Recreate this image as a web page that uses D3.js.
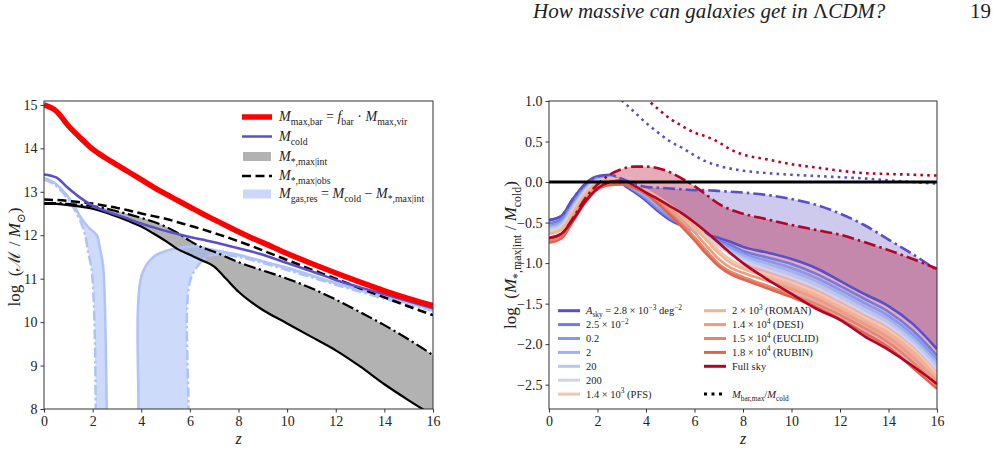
<!DOCTYPE html>
<meta charset="utf-8">
<script src="https://d3js.org/d3.v7.min.js"></script>
<style>
  body { margin: 0; background: #fff; }
  svg text { white-space: pre; }
</style>
<div id="chart"></div>
<script>

var FONT = "'Liberation Serif', 'Times New Roman', 'DejaVu Serif', serif";

// ---------- left panel: log masses vs redshift ----------
var zL = [0,0.5,1,1.5,2,2.5,3,3.5,4,4.5,5,5.5,6,6.5,7,7.5,8,8.5,9,10,11,12,13,14,15,16];
var mBarMax = [15.0,14.86,14.52,14.24,13.98,13.79,13.62,13.45,13.28,13.11,12.95,12.8,12.65,12.5,12.36,12.22,12.08,11.95,11.83,11.58,11.35,11.13,10.92,10.72,10.54,10.38];
var mCold   = [13.4,13.33,13.08,12.86,12.68,12.56,12.47,12.37,12.27,12.18,12.1,12.03,11.96,11.9,11.84,11.77,11.7,11.63,11.55,11.36,11.17,10.97,10.8,10.64,10.48,10.32];
var mObs    = [12.82,12.81,12.79,12.76,12.73,12.68,12.63,12.57,12.5,12.44,12.38,12.3,12.22,12.14,12.05,11.96,11.86,11.76,11.65,11.43,11.21,11.0,10.78,10.57,10.36,10.16];
var mIntLo  = [12.72,12.72,12.69,12.66,12.61,12.53,12.43,12.32,12.2,12.04,11.87,11.68,11.55,11.42,11.28,10.99,10.7,10.47,10.28,9.97,9.66,9.35,8.98,8.57,8.2,7.85];
var mIntHi  = [12.74,12.74,12.72,12.7,12.67,12.62,12.55,12.48,12.4,12.31,12.2,12.05,11.87,11.72,11.62,11.5,11.38,11.28,11.19,11.0,10.78,10.52,10.23,9.93,9.6,9.24];

// gas reservoir band: two edges, each in two pieces (it drops below the axis in between)
var gasAz1 = [0,0.4,0.9,1.2,1.5,1.8,2.17,2.3,2.43,2.5,2.58,2.6];
var gasA1  = [13.32,13.22,12.95,12.72,12.42,12.2,12.0,11.7,11.3,10.5,8.0,7.0];
var gasBz1 = [0,0.4,0.9,1.2,1.5,1.69,1.82,1.96,2.07,2.13,2.15];
var gasB1  = [13.28,13.18,12.9,12.65,12.32,12.0,11.6,11.2,10.1,8.0,7.0];
var gasAz2 = [3.86,3.88,4.02,4.5,5.3,6.2,7,8,9,10,11,12,13,14,15,16];
var gasA2  = [7.0,8.0,11.08,11.5,11.68,11.74,11.66,11.55,11.4,11.25,11.08,10.9,10.74,10.58,10.44,10.3];
var gasBz2 = [5.92,5.94,6.0,6.42,6.7,7,8,9,10,11,12,13,14,15,16];
var gasB2  = [7.0,8.0,10.93,11.36,11.5,11.55,11.5,11.36,11.2,11.03,10.86,10.7,10.54,10.4,10.26];

// ---------- right panel: log(M*,max|int / Mcold) per survey area ----------
var zR = [0,0.5,1,1.5,2,2.5,3,3.5,4,4.5,5,5.5,6,6.5,7,7.5,8,9,10,11,12,13,14,15,16];
var skySmall  = [-0.47,-0.42,-0.2,-0.02,0.07,0.08,-0.02,-0.12,-0.23,-0.36,-0.47,-0.54,-0.59,-0.65,-0.69,-0.74,-0.8,-0.87,-0.95,-1.06,-1.22,-1.38,-1.53,-1.75,-2.06];
var sky2p5e2  = [-0.51,-0.46,-0.24,-0.05,0.05,0.07,-0.01,-0.1,-0.21,-0.34,-0.45,-0.53,-0.6,-0.66,-0.72,-0.78,-0.85,-0.93,-1.01,-1.13,-1.28,-1.44,-1.6,-1.83,-2.14];
var sky0p2    = [-0.54,-0.49,-0.27,-0.07,0.04,0.06,0.0,-0.09,-0.19,-0.32,-0.43,-0.52,-0.6,-0.67,-0.74,-0.81,-0.88,-0.97,-1.06,-1.18,-1.33,-1.49,-1.65,-1.88,-2.19];
var sky2      = [-0.56,-0.51,-0.29,-0.09,0.03,0.05,0.0,-0.08,-0.17,-0.29,-0.41,-0.51,-0.6,-0.68,-0.76,-0.84,-0.91,-1.01,-1.1,-1.22,-1.37,-1.53,-1.69,-1.92,-2.23];
var sky20     = [-0.58,-0.53,-0.31,-0.1,0.02,0.05,0.01,-0.06,-0.15,-0.26,-0.38,-0.49,-0.59,-0.68,-0.77,-0.86,-0.94,-1.04,-1.14,-1.26,-1.41,-1.57,-1.73,-1.96,-2.27];
var sky200    = [-0.6,-0.55,-0.33,-0.11,0.01,0.04,0.01,-0.05,-0.13,-0.23,-0.34,-0.46,-0.57,-0.68,-0.79,-0.89,-0.97,-1.08,-1.18,-1.3,-1.45,-1.61,-1.77,-2.0,-2.31];
var skyPFS    = [-0.62,-0.57,-0.35,-0.13,0.0,0.04,0.02,-0.03,-0.1,-0.19,-0.29,-0.4,-0.53,-0.68,-0.84,-0.96,-1.04,-1.14,-1.24,-1.36,-1.51,-1.67,-1.83,-2.06,-2.37];
var skyROMAN  = [-0.64,-0.59,-0.37,-0.15,-0.01,0.03,0.02,-0.03,-0.1,-0.19,-0.3,-0.42,-0.56,-0.72,-0.88,-1.0,-1.07,-1.17,-1.27,-1.39,-1.54,-1.7,-1.86,-2.09,-2.41];
var skyDESI   = [-0.7,-0.65,-0.42,-0.19,-0.05,0.01,0.01,-0.04,-0.12,-0.22,-0.34,-0.47,-0.62,-0.79,-0.95,-1.06,-1.12,-1.22,-1.32,-1.44,-1.59,-1.75,-1.92,-2.16,-2.46];
var skyEUCLID = [-0.72,-0.67,-0.45,-0.22,-0.07,-0.02,-0.02,-0.06,-0.14,-0.25,-0.38,-0.52,-0.68,-0.85,-1.01,-1.11,-1.17,-1.28,-1.39,-1.5,-1.64,-1.8,-1.98,-2.22,-2.51];
var skyRUBIN  = [-0.75,-0.7,-0.48,-0.25,-0.09,-0.04,-0.03,-0.07,-0.15,-0.27,-0.41,-0.56,-0.72,-0.89,-1.04,-1.14,-1.2,-1.31,-1.42,-1.54,-1.69,-1.86,-2.04,-2.29,-2.55];
var skyFull   = [-0.69,-0.64,-0.46,-0.24,-0.08,0.0,0.02,-0.04,-0.13,-0.21,-0.3,-0.39,-0.5,-0.62,-0.75,-0.88,-1.0,-1.2,-1.38,-1.56,-1.7,-1.9,-2.07,-2.27,-2.49];
// upper bounds (dash-dot) for the smallest area and full sky
var hiSmall = [-0.47,-0.42,-0.2,-0.02,0.07,0.09,0.04,-0.02,-0.06,-0.07,-0.08,-0.09,-0.1,-0.1,-0.11,-0.12,-0.13,-0.16,-0.21,-0.28,-0.39,-0.53,-0.71,-0.89,-1.09];
var hiFull  = [-0.69,-0.64,-0.44,-0.2,-0.03,0.09,0.16,0.19,0.19,0.17,0.12,0.04,-0.05,-0.16,-0.27,-0.34,-0.39,-0.46,-0.53,-0.59,-0.65,-0.74,-0.84,-0.95,-1.07];
// Mbar,max / Mcold (dotted)
var dotZSmall = [2.8,3,3.5,4,4.5,5,5.5,6,6.5,7,8,9,10,11,12,13,14,15,16];
var dotSmall  = [1.07,1.01,0.87,0.73,0.61,0.5,0.42,0.33,0.25,0.2,0.14,0.11,0.09,0.075,0.06,0.045,0.02,0.0,-0.02];
var dotZFull  = [4.0,4.16,4.5,5,5.5,6,6.5,7,7.5,8,9,10,11,12,13,14,15,16];
var dotFull   = [1.04,0.99,0.9,0.78,0.69,0.61,0.56,0.49,0.4,0.34,0.28,0.22,0.18,0.14,0.11,0.1,0.09,0.08];

var skySeries = [skySmall, sky2p5e2, sky0p2, sky2, sky20, sky200, skyPFS, skyROMAN, skyDESI, skyEUCLID, skyRUBIN, skyFull];
var skyColors = ["#5a4fc8","#6f7de3","#8597ee","#9db1f5","#b6c7f5","#cfd4ec","#f3c7ae","#f2b394","#ee9c7a","#e7856a","#dc6650","#b40426"];
var skyLabels = [
  [["A","i"],["sky","b"],[" = 2.8 × 10"],["−3","p"],[" deg"],["−2","p"]],
  [["2.5 × 10"],["−2","p"]],
  [["0.2"]], [["2"]], [["20"]], [["200"]],
  [["1.4 × 10"],["3","p"],[" (PFS)"]],
  [["2 × 10"],["3","p"],[" (ROMAN)"]],
  [["1.4 × 10"],["4","p"],[" (DESI)"]],
  [["1.5 × 10"],["4","p"],[" (EUCLID)"]],
  [["1.8 × 10"],["4","p"],[" (RUBIN)"]],
  [["Full sky"]]
];

var svg = d3.select("#chart").append("svg")
  .attr("width", 997).attr("height", 451)
  .attr("font-family", FONT);

// write math-like text with italics / sub / superscripts
function rich(sel, parts, size) {
  var off = 0;
  parts.forEach(function(p) {
    var f = p[1] || "";
    var shift = f.indexOf("b") >= 0 ? size * 0.3 : (f.indexOf("p") >= 0 ? -size * 0.42 : 0);
    var ts = sel.append("tspan").attr("dy", shift - off).text(p[0]);
    off = shift;
    if (shift !== 0) ts.attr("font-size", (size * 0.7) + "px");
    if (f.indexOf("i") >= 0) ts.attr("font-style", "italic");
  });
}

function txt(x, y, size) {
  return svg.append("text").attr("x", x).attr("y", y)
    .attr("font-family", FONT).attr("font-size", size + "px").attr("fill", "#222");
}

function pairs(zs, vs) { return zs.map(function(z, i) { return [z, vs[i]]; }); }

// header
txt(533, 18, 21).attr("font-style", "italic")
  .call(function(t) {
    t.append("tspan").text("How massive can galaxies get in ");
    t.append("tspan").attr("font-style", "normal").text("Λ");
    t.append("tspan").text("CDM?");
  });
txt(970, 18, 21).text("19");

function panel(x0, x1, ydom, id) {
  var x = d3.scaleLinear().domain([0, 16]).range([x0, x1]);
  var y = d3.scaleLinear().domain(ydom).range([409, 101]);
  svg.append("clipPath").attr("id", id).append("rect")
    .attr("x", x0).attr("y", 101).attr("width", x1 - x0).attr("height", 308);
  var g = svg.append("g");
  var plot = g.append("g").attr("clip-path", "url(#" + id + ")");
  return {x: x, y: y, g: g, plot: plot};
}

function axes(p, yticks, fmt) {
  var ax = p.g.append("g").attr("transform", "translate(0,409)")
    .call(d3.axisBottom(p.x).tickValues(d3.range(0, 17, 2)).tickSize(3.5).tickPadding(4));
  var ay = p.g.append("g").attr("transform", "translate(" + p.x.range()[0] + ",0)")
    .call(d3.axisLeft(p.y).tickValues(yticks).tickFormat(fmt).tickSize(3.5).tickPadding(3));
  [ax, ay].forEach(function(a) {
    a.attr("font-family", FONT).attr("font-size", 14);
    a.select(".domain").remove();
    a.selectAll("line").attr("stroke", "#333");
    a.selectAll("text").attr("fill", "#222");
  });
  p.g.append("rect").attr("x", p.x.range()[0]).attr("y", 101)
    .attr("width", p.x.range()[1] - p.x.range()[0]).attr("height", 308)
    .attr("fill", "none").attr("stroke", "#333").attr("stroke-width", 1);
  txt((p.x.range()[0] + p.x.range()[1]) / 2, 444, 16)
    .attr("text-anchor", "middle").attr("font-style", "italic").text("z");
}

// ================= LEFT =================
var L = panel(44, 433, [8, 15.09], "clipL");
var lineL = d3.line().x(function(d) { return L.x(d[0]); }).y(function(d) { return L.y(d[1]); })
  .curve(d3.curveMonotoneX);
var edgeL = d3.line().x(function(d) { return L.x(d[0]); }).y(function(d) { return L.y(d[1]); })
  .curve(d3.curveCatmullRom.alpha(0.5));

// gray band M*,max|int
L.plot.append("path")
  .attr("d", d3.area().x(function(d, i) { return L.x(zL[i]); })
    .y0(function(d, i) { return L.y(mIntLo[i]); })
    .y1(function(d, i) { return L.y(mIntHi[i]); })
    .curve(d3.curveMonotoneX)(zL))
  .attr("fill", "#b2b2b2");

// light blue gas band (two lobes)
[[gasAz1, gasA1, gasBz1, gasB1], [gasAz2, gasA2, gasBz2, gasB2]].forEach(function(s) {
  var a = pairs(s[0], s[1]), b = pairs(s[2], s[3]);
  L.plot.append("path").attr("d", edgeL(a.concat(b.slice().reverse())) + "Z")
    .attr("fill", "#a5bcf6").attr("fill-opacity", 0.55);
  L.plot.append("path").attr("d", edgeL(a)).attr("fill", "none")
    .attr("stroke", "#aec3f7").attr("stroke-width", 2.5);
  L.plot.append("path").attr("d", edgeL(b)).attr("fill", "none")
    .attr("stroke", "#aec3f7").attr("stroke-width", 2.5).attr("stroke-dasharray", "10,3,2.5,3");
});

L.plot.append("path").attr("d", lineL(pairs(zL, mIntLo))).attr("fill", "none")
  .attr("stroke", "#000").attr("stroke-width", 2.2);
L.plot.append("path").attr("d", lineL(pairs(zL, mIntHi))).attr("fill", "none")
  .attr("stroke", "#000").attr("stroke-width", 2.2).attr("stroke-dasharray", "12,3.5,2.2,3.5");
L.plot.append("path").attr("d", lineL(pairs(zL, mObs))).attr("fill", "none")
  .attr("stroke", "#000").attr("stroke-width", 2.5).attr("stroke-dasharray", "9,4.5");
L.plot.append("path").attr("d", lineL(pairs(zL, mCold))).attr("fill", "none")
  .attr("stroke", "#5a4fc8").attr("stroke-width", 2.5);
L.plot.append("path").attr("d", lineL(pairs(zL, mBarMax))).attr("fill", "none")
  .attr("stroke", "#ff0000").attr("stroke-width", 5.5);

axes(L, d3.range(8, 16), d3.format("d"));

txt(0, 0, 17).attr("transform", "translate(20,257) rotate(-90)")
  .attr("text-anchor", "middle")
  .call(rich, [["log  ("], ["ℳ"], [" / "], ["M", "i"], ["⊙", "b"], [")"]], 17);

// left legend
var legL = [
  {kind: "line", color: "#ff0000", w: 5.5, parts: [["M","i"],["max,bar","b"],[" = "],["f","i"],["bar","b"],[" · "],["M","i"],["max,vir","b"]]},
  {kind: "line", color: "#5a4fc8", w: 2.5, parts: [["M","i"],["cold","b"]]},
  {kind: "rect", color: "#b2b2b2", parts: [["M","i"],["*,max|int","b"]]},
  {kind: "line", color: "#000", w: 2.5, dash: "9,4.5", parts: [["M","i"],["*,max|obs","b"]]},
  {kind: "rect", color: "#cbd8fa", parts: [["M","i"],["gas,res","b"],[" = "],["M","i"],["cold","b"],[" − "],["M","i"],["*,max|int","b"]]}
];
var rowsL = [117, 136.5, 156.5, 176, 194];
legL.forEach(function(e, i) {
  var cy = rowsL[i];
  if (e.kind === "line") {
    svg.append("line").attr("x1", 242).attr("x2", 272).attr("y1", cy).attr("y2", cy)
      .attr("stroke", e.color).attr("stroke-width", e.w).attr("stroke-dasharray", e.dash || null);
  } else {
    svg.append("rect").attr("x", 243).attr("y", cy - 4.5).attr("width", 28).attr("height", 9)
      .attr("fill", e.color);
  }
  txt(279, cy + 4, 14).call(rich, e.parts, 14);
});

// ================= RIGHT =================
var R = panel(549, 937, [-2.8, 1.0], "clipR");
var lineR = d3.line().x(function(d) { return R.x(d[0]); }).y(function(d) { return R.y(d[1]); })
  .curve(d3.curveMonotoneX);
function bandR(lo, hi) {
  return d3.area().x(function(d, i) { return R.x(zR[i]); })
    .y0(function(d, i) { return R.y(lo[i]); })
    .y1(function(d, i) { return R.y(hi[i]); })
    .curve(d3.curveMonotoneX)(zR);
}

R.plot.append("path").attr("d", bandR(skySmall, hiSmall))
  .attr("fill", "#5a4fc8").attr("fill-opacity", 0.3);
R.plot.append("path").attr("d", bandR(skyFull, hiFull))
  .attr("fill", "#b40426").attr("fill-opacity", 0.33);

skySeries.forEach(function(s, i) {
  R.plot.append("path").attr("d", lineR(pairs(zR, s))).attr("fill", "none")
    .attr("stroke", skyColors[i]).attr("stroke-width", 2.6);
});

R.plot.append("path").attr("d", lineR(pairs(zR, hiSmall))).attr("fill", "none")
  .attr("stroke", "#5a4fc8").attr("stroke-width", 2.6).attr("stroke-dasharray", "12,4,2.6,4");
R.plot.append("path").attr("d", lineR(pairs(zR, hiFull))).attr("fill", "none")
  .attr("stroke", "#b40426").attr("stroke-width", 2.6).attr("stroke-dasharray", "12,4,2.6,4");

R.plot.append("path").attr("d", lineR(pairs(dotZSmall, dotSmall))).attr("fill", "none")
  .attr("stroke", "#5a4fc8").attr("stroke-width", 2.6).attr("stroke-dasharray", "2.6,4.2");
R.plot.append("path").attr("d", lineR(pairs(dotZFull, dotFull))).attr("fill", "none")
  .attr("stroke", "#b40426").attr("stroke-width", 2.6).attr("stroke-dasharray", "2.6,4.2");

// zero reference
R.plot.append("line").attr("x1", R.x(0)).attr("x2", R.x(16)).attr("y1", R.y(0)).attr("y2", R.y(0))
  .attr("stroke", "#000").attr("stroke-width", 3);

axes(R, d3.range(-2.5, 1.01, 0.5), d3.format(".1f"));

txt(0, 0, 17).attr("transform", "translate(516,255) rotate(-90)")
  .attr("text-anchor", "middle")
  .call(rich, [["log  ("], ["M", "i"], ["*,max|int", "b"], [" / "], ["M", "i"], ["cold", "b"], [")"]], 17);

// right legend
var rowsR = d3.range(7).map(function(i) { return 310.7 + i * 13.9; });
skyLabels.forEach(function(lab, i) {
  var col = i < 7 ? 0 : 1, row = i < 7 ? i : i - 7;
  var hx = col ? 704 : 558, tx = col ? 732 : 586, cy = rowsR[row];
  svg.append("line").attr("x1", hx).attr("x2", hx + 22).attr("y1", cy).attr("y2", cy)
    .attr("stroke", skyColors[i]).attr("stroke-width", 3);
  txt(tx, cy + 3.5, 10.5).call(rich, lab, 10.5);
});
svg.append("line").attr("x1", 704).attr("x2", 726).attr("y1", rowsR[6]).attr("y2", rowsR[6])
  .attr("stroke", "#000").attr("stroke-width", 3).attr("stroke-dasharray", "3,4.5");
txt(732, rowsR[6] + 3.5, 10.5)
  .call(rich, [["M","i"],["bar,max","b"],["/"],["M","i"],["cold","b"]], 10.5);

</script>
